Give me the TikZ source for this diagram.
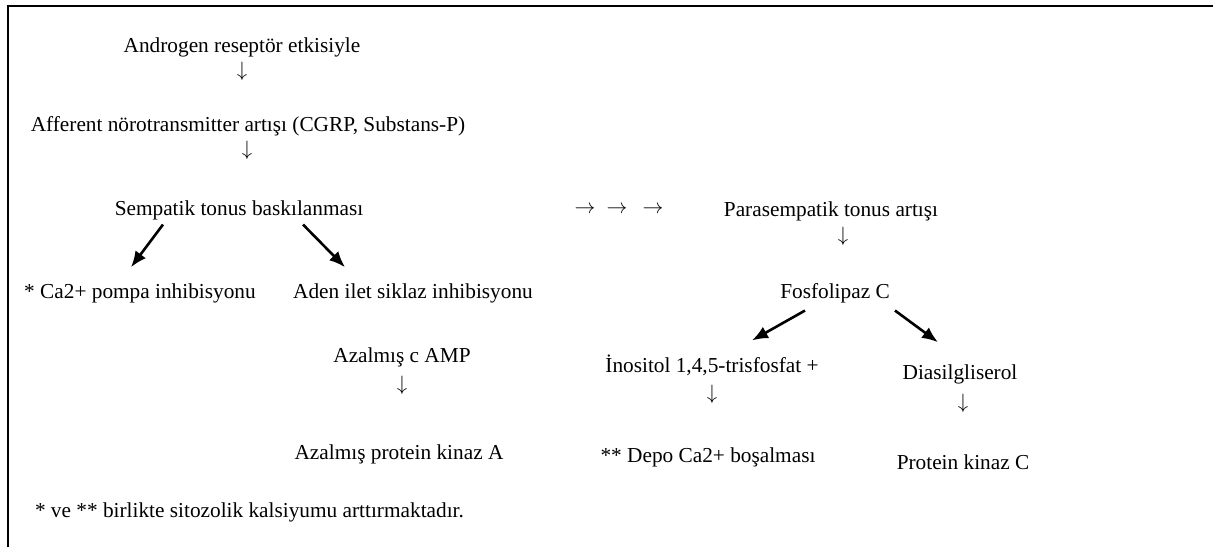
\documentclass[tikz,border=0pt]{standalone}
\usepackage{fontspec}
\setmainfont{Liberation Serif}
\usetikzlibrary{arrows.meta, positioning, calc}

\begin{document}
\begin{tikzpicture}[x=1pt, y=-1pt,
    every node/.style={inner sep=0pt, outer sep=0pt,
      font=\fontsize{21.3}{25}\selectfont},
    step text/.style={anchor=base},
    glyph/.style={anchor=center},
    bigarrow/.style={line width=2.6pt,
      -{Latex[length=16pt, width=13pt]}}]

  \useasboundingbox (0,0) rectangle (1213,547);

% FRAME

  \draw[line width=2pt] (8,547) -- (8,6) -- (1213,6);

% LEFT BRANCH

  \node[step text] (androgen) at (242,52) {Androgen reseptör etkisiyle};
  \node[glyph] (downA) at (242,71) {$\downarrow$};

  \node[step text] (afferent) at (248,131)
    {Afferent nörotransmitter artışı (CGRP, Substans-P)};
  \node[glyph] (downB) at (247,150) {$\downarrow$};

  \node[step text] (sempatik) at (239,215) {Sempatik tonus baskılanması};

  \node[step text] (capompa) at (140,298) {* Ca2+ pompa inhibisyonu};
  \node[step text] (aden) at (413,298) {Aden ilet siklaz inhibisyonu};

  \node[step text] (camp) at (402,362) {Azalmış c AMP};
  \node[glyph] (downC) at (402,385) {$\downarrow$};
  \node[step text] (pka) at (399,459) {Azalmış protein kinaz A};

% RIGHT BRANCH

  \foreach \xpos/\name in {585/arrA, 617/arrB, 653/arrC}
    \node[glyph] (\name) at (\xpos,210) {$\rightarrow$};

  \node[step text] (parasempatik) at (831,216) {Parasempatik tonus artışı};
  \node[glyph] (downD) at (843,236) {$\downarrow$};

  \node[step text] (fosfolipaz) at (835,298) {Fosfolipaz C};

  \node[step text] (inositol) at (712,372) {İnositol 1,4,5-trisfosfat +};
  \node[glyph] (downE) at (712,394) {$\downarrow$};
  \node[step text] (depo) at (708,462) {** Depo Ca2+ boşalması};

  \node[step text] (dag) at (960,379) {Diasilgliserol};
  \node[glyph] (downF) at (963,403) {$\downarrow$};
  \node[step text] (pkc) at (963,469) {Protein kinaz C};

% FOOTNOTE

  \node[anchor=base west] (note) at (35,517)
    {* ve ** birlikte sitozolik kalsiyumu arttırmaktadır.};

% ARROWS

  \draw[bigarrow] ([xshift=-76pt, yshift=-5pt]sempatik.south)
    -- ([xshift=-9pt, yshift=16pt]capompa.north);
  \draw[bigarrow] ([xshift=64pt, yshift=-5pt]sempatik.south)
    -- ([xshift=-68pt, yshift=16pt]aden.north);
  \draw[bigarrow] ([xshift=-30pt, yshift=-8pt]fosfolipaz.south)
    -- ([xshift=40pt, yshift=14pt]inositol.north);
  \draw[bigarrow] ([xshift=60pt, yshift=-8pt]fosfolipaz.south)
    -- ([xshift=-22pt, yshift=22pt]dag.north);

\end{tikzpicture}
\end{document}
